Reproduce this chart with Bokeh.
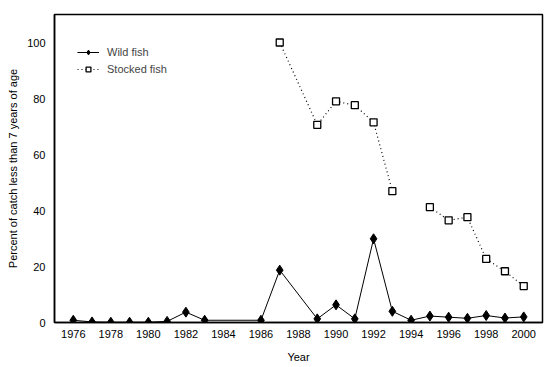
import numpy as np
from bokeh.plotting import figure
from bokeh.models import Range1d, FixedTicker, ColumnDataSource, Legend, LegendItem
from bokeh.embed import file_html
from bokeh.resources import INLINE

wild_years = [1976, 1977, 1978, 1979, 1980, 1981, 1982, 1983, 1986, 1987, 1989, 1990,
              1991, 1992, 1993, 1994, 1995, 1996, 1997, 1998, 1999, 2000]
wild_pct = [0.8, 0.2, 0.1, 0.1, 0.1, 0.4, 3.7, 0.8, 0.8, 18.7, 1.3, 6.3,
            1.3, 29.9, 4.0, 0.8, 2.3, 1.9, 1.5, 2.5, 1.6, 2.0]

stocked_years = [1987, 1989, 1990, 1991, 1992, 1993, 1994, 1995, 1996, 1997, 1998, 1999, 2000]
stocked_pct = [100.0, 70.6, 79.0, 77.6, 71.5, 46.9, np.nan, 41.2, 36.5, 37.6, 22.7, 18.3, 13.0]

x_ticks = list(range(1976, 2001, 2))
y_ticks = [0, 20, 40, 60, 80, 100]

FONT = "Liberation Sans"

p = figure(width=550, height=365, output_backend="svg", toolbar_location=None,
           x_range=Range1d(1975, 2001), y_range=Range1d(0, 110),
           min_border_left=54, min_border_right=8, min_border_top=14, min_border_bottom=42)

p.xgrid.visible = False
p.ygrid.visible = False
p.outline_line_color = "black"
p.outline_line_width = 1.5
p.background_fill_color = "white"
p.border_fill_color = "white"

for ax in (p.xaxis[0], p.yaxis[0]):
    ax.major_tick_out = 0
    ax.major_tick_in = 0
    ax.minor_tick_out = 0
    ax.minor_tick_in = 0
    ax.axis_line_color = "black"
    ax.axis_line_width = 1.5
    ax.major_label_text_font = FONT
    ax.major_label_text_font_size = "11px"
    ax.major_label_text_color = "black"
    ax.axis_label_text_font = FONT
    ax.axis_label_text_font_size = "11px"
    ax.axis_label_text_font_style = "normal"
    ax.axis_label_text_color = "black"

p.xaxis.ticker = FixedTicker(ticks=x_ticks)
p.yaxis.ticker = FixedTicker(ticks=y_ticks)
p.xaxis.axis_label = "Year"
p.yaxis.axis_label = "Percent of catch less than 7 years of age"
p.xaxis.major_label_standoff = 7
p.xaxis.axis_label_standoff = 10
p.yaxis.major_label_standoff = 9
p.yaxis.axis_label_standoff = 5

wsrc = ColumnDataSource(dict(x=wild_years, y=wild_pct))
ssrc = ColumnDataSource(dict(x=stocked_years, y=stocked_pct))

wl = p.line("x", "y", source=wsrc, line_color="black", line_width=1)
wm = p.scatter("x", "y", source=wsrc, marker="diamond", size=10,
               fill_color="black", line_color="black")
sl = p.line("x", "y", source=ssrc, line_color="black", line_width=1.2, line_dash="1 3")
sm = p.scatter("x", "y", source=ssrc, marker="square", size=7,
               fill_color="white", line_color="black", line_width=1.3)

legend = Legend(items=[LegendItem(label="Wild fish", renderers=[wl, wm]),
                       LegendItem(label="Stocked fish", renderers=[sl, sm])],
                location=(23, 247), border_line_color=None, background_fill_alpha=0,
                label_text_font=FONT, label_text_font_size="11px",
                glyph_width=22, glyph_height=12, spacing=5, padding=4,
                label_standoff=8)
p.add_layout(legend)

open("out.html", "w").write(file_html(p, INLINE))
